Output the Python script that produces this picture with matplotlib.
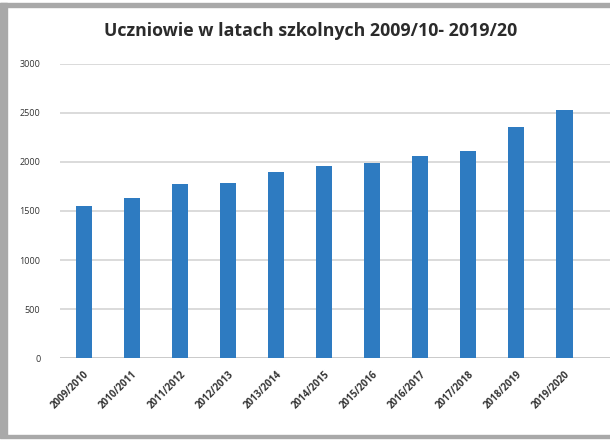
import matplotlib
matplotlib.use("Agg")
from matplotlib import pyplot as plt
from matplotlib.patches import Rectangle
import numpy as np

lata = ["2009/2010", "2010/2011", "2011/2012", "2012/2013", "2013/2014", "2014/2015",
        "2015/2016", "2016/2017", "2017/2018", "2018/2019", "2019/2020"]
uczniowie = [1550, 1635, 1775, 1790, 1900, 1960, 1990, 2060, 2110, 2360, 2530]
y_ticks = [0, 500, 1000, 1500, 2000, 2500, 3000]

plt.rcParams['font.family'] = ['Open Sans', 'DejaVu Sans']

fig = plt.figure(figsize=(6.1, 4.4), dpi=100)
ax = fig.add_axes([0.098, 0.186, 0.902, 0.669])

x = np.arange(len(lata))
ax.bar(x, uczniowie, width=0.34, color='#2e7bc1', zorder=3)

ax.set_ylim(0, 3000)
ax.set_xlim(-0.5, 10.95)
ax.set_yticks(y_ticks)
ax.set_yticklabels([str(v) for v in y_ticks], fontsize=6.5, color='#333333')
ax.set_xticks(x)
ax.set_xticklabels(lata, rotation=45, ha='right', rotation_mode='anchor',
                   fontsize=7, color='#333333', fontweight='bold')
ax.tick_params(axis='x', length=0, pad=8)
ax.tick_params(axis='y', length=0, pad=14)
ax.grid(axis='y', color='#d4d4d4', linewidth=1.2, zorder=0)
for s in ax.spines.values():
    s.set_visible(False)
ax.axhline(0, color='#c8c8c8', linewidth=1.2, zorder=2)

fig.text(0.51, 0.93, "Uczniowie w latach szkolnych 2009/10- 2019/20",
         ha='center', va='center', fontsize=12.8, fontweight='bold', color='#2b2b2b')

# ramka skanu
fig.patches.append(Rectangle((0, 0.008), 0.012, 0.985, transform=fig.transFigure,
                             color='#a9a9a9', zorder=0))
fig.patches.append(Rectangle((0, 0.985), 1, 0.008, transform=fig.transFigure,
                             color='#a9a9a9', zorder=0))
fig.patches.append(Rectangle((0, 0.004), 1, 0.008, transform=fig.transFigure,
                             color='#a9a9a9', zorder=0))

fig.savefig("out.png", dpi=100)
